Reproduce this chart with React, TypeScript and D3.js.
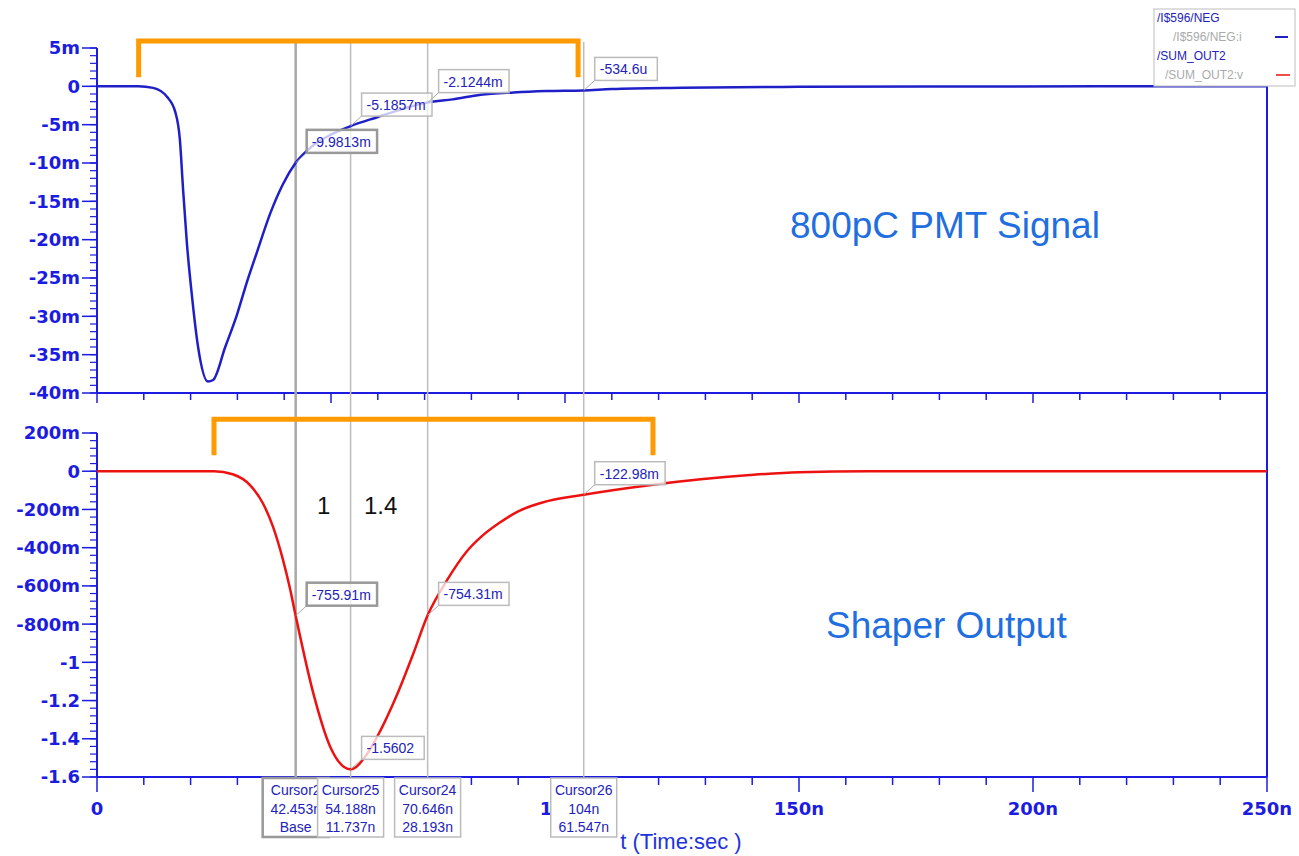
import React from 'react';
import * as d3 from 'd3';

// PMT current (mA) vs time (ns)
const pmtTime = [0, 8.8, 12, 15, 16.7, 17.7, 18.4, 19.2, 20.3, 21.6, 23.7, 24.8, 27.4, 29.9, 32, 34.2, 37, 39.7, 42.45, 46, 50, 54.19, 60, 65, 70.65, 76, 82, 89, 96, 104, 110, 125, 150, 180, 250];
const pmtVal = [0, 0, -0.2, -1.4, -3.3, -6.9, -13.5, -20.4, -27.4, -34, -38.5, -38.3, -34.0, -29.8, -25.6, -21.6, -16.6, -12.8, -9.98, -7.8, -6.3, -5.19, -4.0, -3.0, -2.12, -1.7, -1.1, -0.8, -0.62, -0.53, -0.35, -0.18, -0.06, -0.01, 0];

// shaper output (V) vs time (ns)
const shTime = [0, 25, 29, 32.7, 35.5, 37.6, 39.7, 41.2, 42.45, 46.2, 49.8, 54.19, 57.7, 60.5, 64.1, 67.5, 70.65, 74.8, 79, 82, 86, 90, 95, 104, 118, 129, 139.5, 150, 165, 250];
const shVal = [0, 0, -0.016, -0.073, -0.17, -0.29, -0.46, -0.61, -0.756, -1.16, -1.44, -1.560, -1.48, -1.36, -1.17, -0.96, -0.754, -0.57, -0.42, -0.345, -0.27, -0.21, -0.165, -0.123, -0.073, -0.042, -0.02, -0.005, 0, 0];

const xTickVals = [0, 50, 100, 150, 200, 250];
const xTickLabels = ['0', '50n', '100n', '150n', '200n', '250n'];
const topTickVals = [5, 0, -5, -10, -15, -20, -25, -30, -35, -40];
const topTickLabels = ['5m', '0', '-5m', '-10m', '-15m', '-20m', '-25m', '-30m', '-35m', '-40m'];
const botTickVals = [0.2, 0, -0.2, -0.4, -0.6, -0.8, -1, -1.2, -1.4, -1.6];
const botTickLabels = ['200m', '0', '-200m', '-400m', '-600m', '-800m', '-1', '-1.2', '-1.4', '-1.6'];

const cursorNames = ['Cursor2', 'Cursor25', 'Cursor24', 'Cursor26'];
const cursorTimes = [42.453, 54.188, 70.646, 104];
const cursorTimeText = ['42.453n', '54.188n', '70.646n', '104n'];
const cursorDeltaText = ['Base', '11.737n', '28.193n', '61.547n'];
const pmtReadout = ['-9.9813m', '-5.1857m', '-2.1244m', '-534.6u'];
const pmtReadVal = [-9.9813, -5.1857, -2.1244, -0.5346];
const shReadout = ['-755.91m', '-1.5602', '-754.31m', '-122.98m'];
const shReadVal = [-0.75591, -1.5602, -0.75431, -0.12298];

// orange brackets: [t start, t end, y top, y foot]
const topBracket = [8.9, 102.8, 5.9, 1.2];
const botBracket = [25, 118.8, 0.272, 0.084];

const AXIS = '#1c1ce0';
const FONT = 'Liberation Sans, Arial, sans-serif';
const TICKFONT = 'DejaVu Sans, sans-serif';
const BOXW = 66;

const x = d3.scaleLinear().domain([0, 250]).range([97, 1267]);
const yTop = d3.scaleLinear().domain([-40, 5]).range([393, 48]);
const yBot = d3.scaleLinear().domain([-1.6, 0.2]).range([777, 433]);

const pmtLine = d3.line<number>().x((_, i) => x(pmtTime[i])).y(d => yTop(d)).curve(d3.curveMonotoneX);
const shLine = d3.line<number>().x((_, i) => x(shTime[i])).y(d => yBot(d)).curve(d3.curveMonotoneX);

function YAxis({ scale, vals, labels, step }: { scale: d3.ScaleLinear<number, number>; vals: number[]; labels: string[]; step: number }) {
  const [lo, hi] = scale.domain();
  const minors = d3.range(lo, hi + step / 2, step);
  return (
    <g>
      <line x1={97} x2={97} y1={scale(hi)} y2={scale(lo)} stroke={AXIS} strokeWidth={2} />
      {minors.map((v, i) => (
        <line key={'m' + i} x1={90} x2={97} y1={scale(v)} y2={scale(v)} stroke={AXIS} strokeWidth={1.2} />
      ))}
      {vals.map((v, i) => (
        <g key={i}>
          <line x1={82} x2={97} y1={scale(v)} y2={scale(v)} stroke={AXIS} strokeWidth={1.5} />
          <text x={80} y={scale(v)} dy="0.36em" textAnchor="end" fill={AXIS} fontSize={18} fontWeight="bold" fontFamily={TICKFONT}>
            {labels[i]}
          </text>
        </g>
      ))}
    </g>
  );
}

function XAxis({ y0, minorLen, majorLen }: { y0: number; minorLen: number; majorLen: number }) {
  return (
    <g>
      <line x1={x(0)} x2={x(250)} y1={y0} y2={y0} stroke={AXIS} strokeWidth={2} />
      {d3.range(0, 251, 10).map(t => (
        <line key={t} x1={x(t)} x2={x(t)} y1={y0} y2={y0 + (t % 50 === 0 ? majorLen : minorLen)} stroke={AXIS} strokeWidth={1.5} />
      ))}
    </g>
  );
}

function ReadBox({ px, py, label, base }: { px: number; py: number; label: string; base: boolean }) {
  const w = label.length * 7.8 + 8;
  const bx = px + 11;
  const by = py - 10 - 23;
  return (
    <g>
      <line x1={px} y1={py} x2={bx} y2={py - 10} stroke="#aaa" strokeWidth={1} />
      <rect x={bx} y={by} width={w} height={23} fill="white" fillOpacity={0.75} stroke={base ? '#999' : '#bbb'} strokeWidth={base ? 2.5 : 1.5} />
      <text x={bx + 5} y={by + 17} fill="#2222bb" fontSize={14} fontFamily={FONT}>{label}</text>
    </g>
  );
}

function Bracket({ b, ys }: { b: number[]; ys: d3.ScaleLinear<number, number> }) {
  const x0 = x(b[0]), x1 = x(b[1]), yt = ys(b[2]), yf = ys(b[3]);
  return (
    <path d={`M${x0},${yf} L${x0},${yt} L${x1},${yt} L${x1},${yf}`} fill="none" stroke="#ff9a00" strokeWidth={5} />
  );
}

export default function App() {
  // areas of the tick-label row not covered by the cursor boxes
  const boxEdges = cursorTimes.map(t => [x(t) - BOXW / 2, x(t) + BOXW / 2]);
  const gaps: number[][] = [];
  let start = 0;
  boxEdges.forEach(([a, b]) => {
    if (a > start) gaps.push([start, a]);
    start = Math.max(start, b);
  });
  gaps.push([start, 1299]);
  const nextLeft = (i: number) => (i + 1 < cursorTimes.length ? x(cursorTimes[i + 1]) - BOXW / 2 : 1299);

  return (
    <svg width={1299} height={856} style={{ position: 'absolute', left: 0, top: 0, background: 'white' }}>
      <defs>
        <clipPath id="tickclip">
          {gaps.map(([a, b], i) => (
            <rect key={i} x={a} y={790} width={b - a} height={40} />
          ))}
        </clipPath>
        {cursorTimes.map((t, i) => (
          <clipPath key={i} id={'cclip' + i}>
            <rect x={x(t) - BOXW / 2} y={778} width={Math.min(BOXW, nextLeft(i) - (x(t) - BOXW / 2))} height={60} />
          </clipPath>
        ))}
      </defs>
      <rect width={1299} height={856} fill="white" />
      {/* right border */}
      <line x1={1267} x2={1267} y1={40} y2={777} stroke={AXIS} strokeWidth={2} />

      <YAxis scale={yTop} vals={topTickVals} labels={topTickLabels} step={1} />
      <YAxis scale={yBot} vals={botTickVals} labels={botTickLabels} step={0.04} />
      <XAxis y0={393} minorLen={7} majorLen={10} />
      <XAxis y0={777} minorLen={8} majorLen={15} />

      {/* cursor lines */}
      {cursorTimes.map((t, i) => (
        <line key={i} x1={x(t)} x2={x(t)} y1={42} y2={777} stroke={i === 0 ? '#a8a8a8' : '#bdbdbd'} strokeWidth={i === 0 ? 2.5 : 1.5} />
      ))}

      <path d={pmtLine(pmtVal) ?? ''} fill="none" stroke="#1f1fc8" strokeWidth={2.5} />
      <path d={shLine(shVal) ?? ''} fill="none" stroke="#ee1111" strokeWidth={2.5} />

      <Bracket b={topBracket} ys={yTop} />
      <Bracket b={botBracket} ys={yBot} />

      {cursorTimes.map((t, i) => (
        <ReadBox key={'p' + i} px={x(t)} py={yTop(pmtReadVal[i])} label={pmtReadout[i]} base={i === 0} />
      ))}
      {cursorTimes.map((t, i) => (
        <ReadBox key={'s' + i} px={x(t)} py={yBot(shReadVal[i])} label={shReadout[i]} base={i === 0} />
      ))}

      {/* x tick labels */}
      <g clipPath="url(#tickclip)">
        {xTickVals.map((t, i) => (
          <text key={t} x={x(t)} y={815} textAnchor="middle" fill={AXIS} fontSize={18} fontWeight="bold" fontFamily={TICKFONT}>
            {xTickLabels[i]}
          </text>
        ))}
      </g>
      <text x={681} y={849} textAnchor="middle" fill="#2233dd" fontSize={22} fontFamily={FONT}>t (Time:sec )</text>

      {/* cursor boxes */}
      {cursorTimes.map((t, i) => {
        const cx = x(t);
        return (
          <g key={'c' + i}>
            <rect x={cx - BOXW / 2} y={778} width={BOXW} height={59} fill="white" stroke={i === 0 ? '#999' : '#bbb'} strokeWidth={i === 0 ? 2.5 : 1.5} />
            <g clipPath={`url(#cclip${i})`} fill="#2222bb" fontSize={14} fontFamily={FONT} textAnchor="middle">
              <text x={cx} y={795}>{cursorNames[i]}</text>
              <text x={cx} y={814}>{cursorTimeText[i]}</text>
              <text x={cx} y={832}>{cursorDeltaText[i]}</text>
            </g>
          </g>
        );
      })}

      {/* annotations */}
      <text x={317} y={514} fill="#111" fontSize={24} fontFamily={FONT}>1</text>
      <text x={364} y={514} fill="#111" fontSize={24} fontFamily={FONT}>1.4</text>
      <text x={790} y={238} fill="#1f6fe0" fontSize={37} fontFamily={FONT}>800pC PMT Signal</text>
      <text x={826} y={638} fill="#1f6fe0" fontSize={37} fontFamily={FONT}>Shaper Output</text>

      {/* legend */}
      <g fontFamily={FONT} fontSize={12}>
        <rect x={1154} y={9} width={141} height={77} fill="white" stroke="#c8c8c8" strokeWidth={1.2} />
        <text x={1157} y={22} fill="#2222bb">/I$596/NEG</text>
        <text x={1173} y={41} fill="#aaa">/I$596/NEG:i</text>
        <line x1={1275} x2={1288} y1={37} y2={37} stroke="#1f1fc8" strokeWidth={2} />
        <text x={1157} y={60} fill="#2222bb">/SUM_OUT2</text>
        <text x={1165} y={79} fill="#aaa">/SUM_OUT2:v</text>
        <line x1={1276} x2={1290} y1={75} y2={75} stroke="#ee1111" strokeWidth={1.5} />
      </g>
    </svg>
  );
}
